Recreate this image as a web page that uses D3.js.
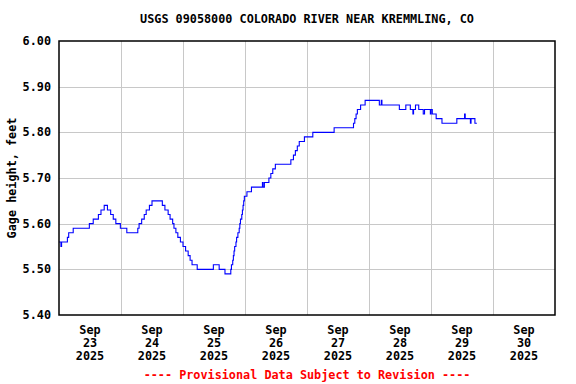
<!DOCTYPE html>
<html>
<head>
<meta charset="utf-8">
<script src="https://cdn.jsdelivr.net/npm/d3@7"></script>
<style>
  body { margin: 0; background: #fff; }
  svg text { font-family: "DejaVu Sans Mono", "Liberation Mono", monospace; font-weight: bold; font-size: 11.8px; }
</style>
</head>
<body>
<script>
(function(){

//gage readings (time of each step change, value in feet)
var stepTimes = [
    "2025-09-23 00:00","2025-09-23 00:45","2025-09-23 01:00","2025-09-23 03:15","2025-09-23 03:45",
    "2025-09-23 05:30","2025-09-23 11:45","2025-09-23 13:15","2025-09-23 15:15","2025-09-23 16:15",
    "2025-09-23 17:30","2025-09-23 18:45","2025-09-23 20:00","2025-09-23 21:00","2025-09-23 22:00",
    "2025-09-23 23:45",
    "2025-09-24 02:15","2025-09-24 06:30","2025-09-24 07:00","2025-09-24 08:00","2025-09-24 09:00",
    "2025-09-24 09:45","2025-09-24 11:00","2025-09-24 12:00","2025-09-24 16:00","2025-09-24 17:00",
    "2025-09-24 18:15","2025-09-24 19:00","2025-09-24 20:00","2025-09-24 20:30","2025-09-24 21:15",
    "2025-09-24 22:00","2025-09-24 23:00",
    "2025-09-25 00:00","2025-09-25 01:00","2025-09-25 02:00","2025-09-25 02:45","2025-09-25 03:30",
    "2025-09-25 05:30","2025-09-25 11:45","2025-09-25 14:00","2025-09-25 16:15","2025-09-25 18:30",
    "2025-09-25 18:45","2025-09-25 19:15","2025-09-25 19:30","2025-09-25 19:45","2025-09-25 20:00",
    "2025-09-25 20:30","2025-09-25 20:45","2025-09-25 21:15","2025-09-25 21:45","2025-09-25 22:00",
    "2025-09-25 22:15","2025-09-25 22:45","2025-09-25 23:00","2025-09-25 23:15","2025-09-25 23:30",
    "2025-09-25 23:45",
    "2025-09-26 00:45","2025-09-26 02:30","2025-09-26 06:45","2025-09-26 07:00","2025-09-26 07:30",
    "2025-09-26 09:15","2025-09-26 10:00","2025-09-26 10:45","2025-09-26 11:45","2025-09-26 17:45",
    "2025-09-26 18:45","2025-09-26 19:30","2025-09-26 20:15","2025-09-26 21:00","2025-09-26 23:00",
    "2025-09-27 02:15","2025-09-27 10:30","2025-09-27 18:00","2025-09-27 18:30","2025-09-27 19:00",
    "2025-09-27 19:30","2025-09-27 20:45","2025-09-27 22:30",
    "2025-09-28 04:00","2025-09-28 04:45","2025-09-28 05:00","2025-09-28 11:45","2025-09-28 14:15",
    "2025-09-28 16:00","2025-09-28 17:00","2025-09-28 17:15","2025-09-28 18:00","2025-09-28 19:15",
    "2025-09-28 21:00","2025-09-28 21:30","2025-09-28 23:45",
    "2025-09-29 00:00","2025-09-29 00:30","2025-09-29 02:00","2025-09-29 04:15","2025-09-29 10:00",
    "2025-09-29 13:00","2025-09-29 13:15","2025-09-29 15:15","2025-09-29 15:30","2025-09-29 17:00",
    "2025-09-29 17:45"
];
var gageHeight = [
    5.56,5.55,5.56,5.57,5.58,
    5.59,5.60,5.61,5.62,5.63,
    5.64,5.63,5.62,5.61,5.60,
    5.59,
    5.58,5.59,5.60,5.61,5.62,
    5.63,5.64,5.65,5.64,5.63,
    5.62,5.61,5.60,5.59,5.58,
    5.57,5.56,
    5.55,5.54,5.53,5.52,5.51,
    5.50,5.51,5.50,5.49,5.50,
    5.51,5.52,5.53,5.54,5.55,
    5.56,5.57,5.58,5.59,5.60,
    5.61,5.62,5.63,5.64,5.65,
    5.66,
    5.67,5.68,5.69,5.68,5.69,
    5.70,5.71,5.72,5.73,5.74,
    5.75,5.76,5.77,5.78,5.79,
    5.80,5.81,5.82,5.83,5.84,
    5.85,5.86,5.87,
    5.86,5.87,5.86,5.85,5.86,
    5.85,5.84,5.85,5.86,5.85,
    5.84,5.85,5.84,
    5.85,5.84,5.83,5.82,5.83,
    5.84,5.83,5.82,5.83,5.82,
    5.82
];

//axis labels
var yTicks = [5.40, 5.50, 5.60, 5.70, 5.80, 5.90, 6.00];
var dayLabels = ["23", "24", "25", "26", "27", "28", "29", "30"];
var monthLabel = "Sep", yearLabel = "2025";
var title = "USGS 09058000 COLORADO RIVER NEAR KREMMLING, CO";
var yTitle = "Gage height, feet";
var footer = "---- Provisional Data Subject to Revision ----";

var width = 576, height = 384;
var plot = {left: 59, right: 555, top: 41, bottom: 315};

var parseTime = d3.timeParse("%Y-%m-%d %H:%M");
var data = stepTimes.map(function(t, i){
    return {date: parseTime(t), value: gageHeight[i]};
});

var svg = d3.select("body").append("svg")
    .attr("width", width)
    .attr("height", height);

var x = d3.scaleTime()
    .domain([parseTime("2025-09-23 00:00"), parseTime("2025-10-01 00:00")])
    .range([plot.left, plot.right]);

var y = d3.scaleLinear()
    .domain([5.40, 6.00])
    .range([plot.bottom, plot.top]);

//day boundaries and label positions
var midnights = d3.timeDay.range(parseTime("2025-09-24 00:00"), parseTime("2025-10-01 00:00"));
var noons = d3.timeDay.range(parseTime("2025-09-23 00:00"), parseTime("2025-10-01 00:00"))
    .map(function(d){ return d3.timeHour.offset(d, 12); });

//grid
svg.append("g").selectAll("line.v")
    .data(midnights)
    .enter().append("line")
    .attr("x1", function(d){ return Math.round(x(d)) + 0.5; })
    .attr("x2", function(d){ return Math.round(x(d)) + 0.5; })
    .attr("y1", plot.top).attr("y2", plot.bottom)
    .attr("stroke", "#c8c8c8");

svg.append("g").selectAll("line.h")
    .data(yTicks.slice(1, -1))
    .enter().append("line")
    .attr("y1", function(d){ return Math.round(y(d)) + 0.5; })
    .attr("y2", function(d){ return Math.round(y(d)) + 0.5; })
    .attr("x1", plot.left).attr("x2", plot.right)
    .attr("stroke", "#c8c8c8");

//data line
var line = d3.line()
    .x(function(d){ return x(d.date); })
    .y(function(d){ return y(d.value); })
    .curve(d3.curveStepAfter);

svg.append("path")
    .datum(data)
    .attr("d", line)
    .attr("fill", "none")
    .attr("stroke", "#0000ff")
    .attr("stroke-width", 1.1);

//frame
svg.append("rect")
    .attr("x", plot.left).attr("y", plot.top)
    .attr("width", plot.right - plot.left)
    .attr("height", plot.bottom - plot.top)
    .attr("fill", "none")
    .attr("stroke", "#000")
    .attr("stroke-width", 1.5);

//y tick labels
svg.append("g").selectAll("text")
    .data(yTicks)
    .enter().append("text")
    .attr("x", plot.left - 8)
    .attr("y", function(d){ return y(d); })
    .attr("dy", "0.35em")
    .attr("text-anchor", "end")
    .text(function(d){ return d.toFixed(2); });

//x tick labels, three lines each
var xl = svg.append("g").selectAll("text")
    .data(noons)
    .enter().append("text")
    .attr("text-anchor", "middle")
    .attr("x", function(d){ return x(d); });
xl.append("tspan").attr("y", 334).text(monthLabel);
xl.append("tspan").attr("x", function(d){ return x(d); }).attr("y", 347)
    .text(function(d, i){ return dayLabels[i]; });
xl.append("tspan").attr("x", function(d){ return x(d); }).attr("y", 360).text(yearLabel);

//titles
svg.append("text")
    .attr("x", (plot.left + plot.right) / 2)
    .attr("y", 23)
    .attr("text-anchor", "middle")
    .text(title);

svg.append("text")
    .attr("transform", "translate(16," + ((plot.top + plot.bottom) / 2) + ") rotate(-90)")
    .attr("text-anchor", "middle")
    .text(yTitle);

svg.append("text")
    .attr("x", (plot.left + plot.right) / 2)
    .attr("y", 379)
    .attr("text-anchor", "middle")
    .attr("fill", "#ff0000")
    .text(footer);

})();
</script>
</body>
</html>
